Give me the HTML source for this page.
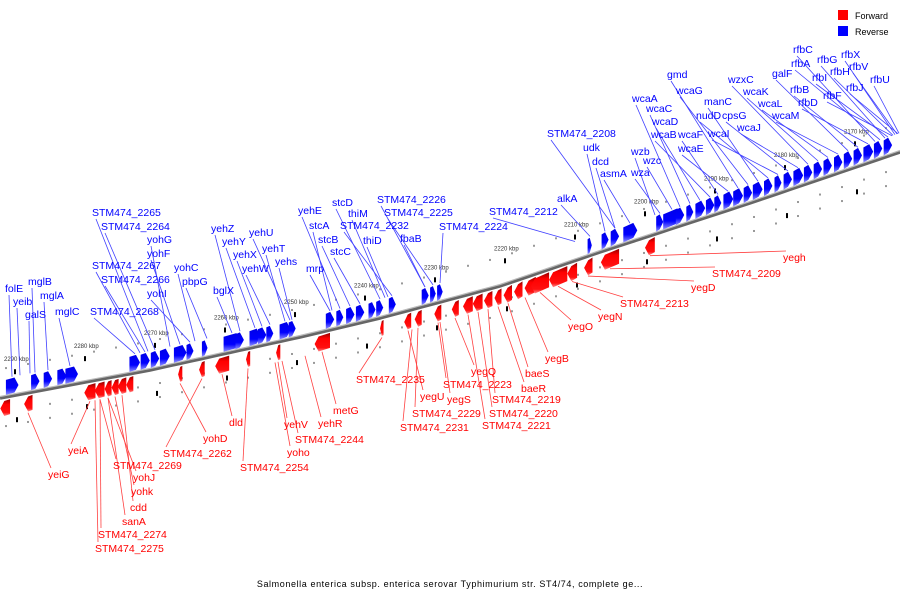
<!DOCTYPE html>
<html><head><meta charset="utf-8"><style>
body{margin:0;background:#fff}
svg{display:block;font-family:"Liberation Sans","DejaVu Sans",sans-serif}
</style></head><body>
<svg id="chart" width="900" height="600" viewBox="0 0 900 600">
<defs>
<linearGradient id="gb" x1="0" y1="0" x2="0" y2="1"><stop offset="0" stop-color="#0000e8"/><stop offset="0.6" stop-color="#0000ff"/><stop offset="1" stop-color="#9090ff"/></linearGradient>
<linearGradient id="gr" x1="0" y1="0" x2="0" y2="1"><stop offset="0" stop-color="#900000"/><stop offset="0.3" stop-color="#ff0000"/><stop offset="0.8" stop-color="#ff1010"/><stop offset="1" stop-color="#ff9090"/></linearGradient>
</defs>
<g id="dots"></g>
<g id="axis"></g>
<g id="lines"></g>
<g id="genes"></g>
<g id="labels"></g>
<g>
<rect x="838" y="10" width="10" height="10" fill="#f00"/>
<text x="855" y="19" font-size="9">Forward</text>
<rect x="838" y="26" width="10" height="10" fill="#00f"/>
<text x="855" y="35" font-size="9">Reverse</text>
</g>
<text x="450" y="587" font-size="9" letter-spacing="0.6" text-anchor="middle">Salmonella enterica subsp. enterica serovar Typhimurium str. ST4/74, complete ge...</text>
</svg>
<script>
const tickKbp=[2290,2280,2270,2260,2250,2240,2230,2220,2210,2200,2190,2180,2170];
const revKbp=[2290.4,2287.1,2285.3,2283.3,2281.9,2272.9,2271.4,2270,2268.6,2266.4,2265,2262.9,2259,2257.9,2255.7,2254.7,2253.6,2251.4,2250.4,2245,2243.6,2242.1,2240.7,2239,2237.9,2236.1,2231.4,2230.3,2229.3,2207.9,2205.7,2204.3,2202.1,2197.9,2196.1,2195,2193.6,2192.1,2190.7,2189.6,2188.1,2186.7,2185.3,2183.9,2182.4,2181,2179.6,2178.1,2176.7,2175.3,2173.9,2172.4,2171,2169.6,2168.1,2166.7,2165.3];
const revLen=[1.8,1.2,1.2,1.3,1.8,1.5,1.3,1.2,1.4,1.8,1,0.8,2.4,1.2,1.6,1.2,1,1.6,1,1.2,1,1.2,1.2,1,1,1,1,0.8,0.8,0.6,1,1.2,2,1,2.6,1.2,1,1.4,1.2,1,1.4,1.4,1.2,1.4,1.2,1,1.2,1.4,1.2,1.2,1.2,1.2,1.2,1.2,1.4,1.2,1.2];
const fwdKbp=[2291.4,2288.1,2279.3,2277.9,2276.7,2275.7,2274.7,2273.6,2266.4,2263.3,2260.4,2256.7,2252.4,2246.1,2237.6,2233.9,2232.4,2229.6,2227.1,2225.3,2223.9,2222.4,2221,2219.6,2218.1,2216.4,2215,2212.4,2210.4,2208.1,2205,2199.3];
const fwdLen=[1.4,1.2,1.6,1.4,1,1,1.2,1,0.6,0.8,2,0.6,0.6,2.2,0.5,1,1,1,1,1.4,1.4,1.2,1,1.2,1.2,1.6,2.6,2.6,1.4,1.2,2.6,1.4];
const revLabels=[["folE",5,292,12],["yeib",13,305,20],["mglB",28,285,35],["mglA",40,299,48],["galS",25,318,30],["mglC",55,315,70],["STM474_2265",92,216,148],["STM474_2264",101,230,155],["yohG",147,243,170],["yohF",147,257,180],["STM474_2267",92,269,140],["yohC",174,271,195],["STM474_2266",101,283,145],["pbpG",182,285,207],["yohI",147,297,190],["bglX",213,294,232],["STM474_2268",90,315,135],["yehZ",211,232,240],["yehY",222,245,255],["yehU",249,236,290],["yehX",233,258,262],["yehT",262,252,285],["yehW",242,272,270],["yehs",275,265,292],["yehE",298,214,340],["stcD",332,206,380],["thiM",348,217,385],["stcA",309,229,332],["STM474_2232",340,229,392],["stcB",318,243,350],["thiD",363,244,388],["stcC",330,255,360],["mrp",306,272,330],["STM474_2226",377,203,425],["STM474_2225",384,216,433],["STM474_2224",439,230,440],["fbaB",400,242,425],["STM474_2212",489,215,575],["alkA",557,202,590],["STM474_2208",547,137,615],["udk",583,151,605],["dcd",592,165,615],["asmA",600,177,630],["wza",631,176,660],["wzb",631,155,655],["wzc",643,164,672],["wcaA",632,102,680],["wcaC",646,112,690],["wcaD",652,125,700],["wcaB",651,138,710],["wcaF",678,138,718],["wcaE",678,152,728],["gmd",667,78,738],["wcaG",676,94,748],["manC",704,105,758],["nudD",696,119,768],["wcaI",708,137,778],["cpsG",722,119,788],["wcaJ",737,131,798],["wzxC",728,83,808],["wcaK",743,95,818],["wcaL",758,107,828],["wcaM",772,119,838],["galF",772,77,848],["rfbB",790,93,858],["rfbD",798,106,868],["rfbC",793,53,875],["rfbA",791,67,880],["rfbG",817,63,885],["rfbI",812,81,888],["rfbF",823,99,892],["rfbX",841,58,895],["rfbH",830,75,893],["rfbV",849,70,897],["rfbJ",846,91,898],["rfbU",870,83,899]];
const fwdLabels=[["yeiG",48,478,28],["yeiA",68,454,90],["STM474_2269",113,469,100],["yohJ",133,481,108],["yohk",131,495,115],["cdd",130,511,122],["sanA",122,525,108],["STM474_2274",98,538,100],["STM474_2275",95,552,95],["yohD",203,442,180],["STM474_2262",163,457,202],["dld",229,426,222],["STM474_2254",240,471,248],["yehV",284,428,278],["yoho",287,456,275],["STM474_2244",295,443,282],["yehR",318,427,305],["metG",333,414,322],["STM474_2235",356,383,382],["yegU",420,400,408],["STM474_2223",443,388,438],["yegS",447,403,440],["STM474_2229",412,417,418],["STM474_2231",400,431,412],["yegQ",471,375,455],["STM474_2219",492,403,488],["STM474_2220",489,417,478],["STM474_2221",482,429,468],["baeR",521,392,498],["baeS",525,377,508],["yegB",545,362,525],["yegO",568,330,540],["yegN",598,320,558],["STM474_2213",620,307,572],["yegD",691,291,588],["STM474_2209",712,277,610],["yegh",783,261,650]];

const NS="http://www.w3.org/2000/svg";
const AX=[0,150,300,380,500,600,750,900], AY=[398,370,337,318,286,252,203,152];
function ay(x){if(x<=0)return AY[0];for(let i=1;i<AX.length;i++){if(x<=AX[i]){const t=(x-AX[i-1])/(AX[i]-AX[i-1]);return AY[i-1]+t*(AY[i]-AY[i-1]);}}return AY[AY.length-1]+(x-900)*(-0.33);}
function px(k){return 15+(2290-k)*7;}
function mk(tag,attrs,parent){const e=document.createElementNS(NS,tag);for(const a in attrs)e.setAttribute(a,attrs[a]);parent.appendChild(e);return e;}
const gDots=document.getElementById('dots'),gAxis=document.getElementById('axis'),gLines=document.getElementById('lines'),gGenes=document.getElementById('genes'),gLab=document.getElementById('labels');
for(let x=5;x<900;x+=22){
 [-30,14,28].forEach(o=>{const d=mk('rect',{x:x,y:ay(x)+o,width:2,height:2,fill:'#999'},gDots);
 
 });
}
let dp="";for(let x=0;x<=900;x+=10)dp+=(x?"L":"M")+x+","+ay(x);
const al=mk('path',{d:dp,stroke:'#666',"stroke-width":3.5,fill:'none'},gAxis);


const al2=mk('path',{d:dp,stroke:'#bbb',"stroke-width":1.2,fill:'none',transform:'translate(0,-1.5)'},gAxis);


tickKbp.forEach(k=>{const x=px(k);
 const t=mk('text',{x:x-11,y:ay(x)-34,"font-size":6,fill:'#333'},gAxis);t.textContent=k+" kbp";
 
 
 const m=mk('rect',{x:x-1,y:ay(x)-26,width:2,height:5,fill:'#000'},gAxis);
 
 
 const m2=mk('rect',{x:x+1,y:ay(x)+22,width:2,height:5,fill:'#000'},gAxis);
 
 
});
function gene(k,len,rev){
 const xc=px(k),w=len*7,x1=xc-w/2,x2=xc+w/2,h=15,tip=Math.min(4,w/2);
 const g=mk('g',{},gGenes);
 
 
 let pts;
 if(rev){const b1=ay(x1)-2,b2=ay(x2)-2;
  pts=[[x1,b1],[x2-tip,b2],[x2,b2-h/2],[x2-tip,b2-h],[x1,b1-h]];
  mk('polygon',{points:pts.map(p=>p.join(',')).join(' '),fill:'url(#gb)'},g);
 }else{const b1=ay(x1)+3,b2=ay(x2)+3;
  pts=[[x1,b1+h/2],[x1+tip,b1],[x2,b2],[x2,b2+h],[x1+tip,b1+h]];
  mk('polygon',{points:pts.map(p=>p.join(',')).join(' '),fill:'url(#gr)'},g);
 }
}
revKbp.forEach((k,i)=>gene(k,revLen[i],true));
fwdKbp.forEach((k,i)=>gene(k,fwdLen[i],false));
function label(L,rev){
 const [txt,tx,ty,gx]=L;
 const t=mk('text',{x:tx,y:ty,"font-size":10.5,fill:rev?'#0000ff':'#ff0000'},gLab);t.textContent=txt;
 
 
 let l;
 if(rev) l=mk('line',{x1:tx+4,y1:ty+3,x2:gx,y2:ay(gx)-19,stroke:'#4040ff',"stroke-width":0.8},gLines);
 else l=mk('line',{x1:gx,y1:ay(gx)+20,x2:tx+3,y2:ty-10,stroke:'#ff4040',"stroke-width":0.8},gLines);
 
 
}
revLabels.forEach(L=>label(L,true));
fwdLabels.forEach(L=>label(L,false));
</script>
</body></html>
